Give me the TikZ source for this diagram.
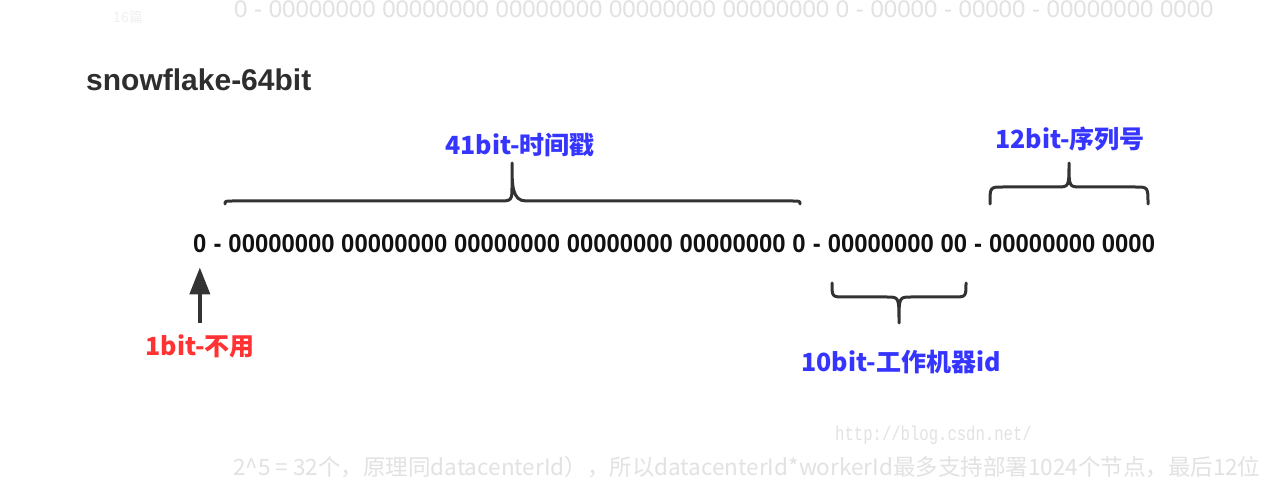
\documentclass[tikz,border=0pt]{standalone}
\usepackage{fontspec}
\usepackage{tikz}
\usepackage{xcolor}
\usetikzlibrary{arrows.meta, positioning}
\setmainfont{Liberation Sans}
\newfontfamily\bitfont[FakeStretch=0.925]{Liberation Sans}
\newfontfamily\cjk{Noto Sans CJK SC}
\newfontfamily\markfont[FakeStretch=0.78]{Liberation Mono}
\definecolor{SF_Black}{HTML}{111111}
\definecolor{SF_Title}{HTML}{2E2E2E}
\definecolor{SF_Line}{HTML}{333333}
\definecolor{SF_Blue}{HTML}{3535FF}
\definecolor{SF_Red}{HTML}{FF3333}
\definecolor{SF_Faded}{HTML}{E2E2E2}

\begin{document}
\begin{tikzpicture}[x=1pt, y=1pt,
    bits/.style={inner sep=0pt, text=SF_Black, font=\bitfont\fontsize{25.8}{25.8}\selectfont\bfseries},
    part/.style={inner sep=0pt, text=SF_Blue, font=\cjk\fontsize{25}{25}\selectfont\bfseries},
    brace/.style={SF_Line, line width=3pt, line cap=round, line join=round},
    faded/.style={inner sep=0pt, text=SF_Faded}]
    \useasboundingbox (0,0) rectangle (1264,485);
    \fill[white] (0,0) rectangle (1264,485);

    % faded page text
    \node[faded, anchor=base west, font=\fontsize{24}{24}\selectfont] (pagetop) at (234,467.5) {0 - 00000000 00000000 00000000 00000000 00000000 0 - 00000 - 00000 - 00000000 0000};
    \node[faded, text=SF_Faded!50, font=\cjk\fontsize{14}{14}\selectfont] (count) at (128,468) {16篇};
    \node[faded, anchor=base west, font=\markfont\fontsize{20}{20}\selectfont] (mark) at (835,45) {http://blog.csdn.net/};
    \node[faded, anchor=base west, font=\cjk\fontsize{22.5}{22.5}\selectfont] (pagebottom) at (233,10) {2\textasciicircum5 = 32个，原理同datacenterId），所以datacenterId*workerId最多支持部署1024个节点，最后12位};

    % title
    \node[anchor=base west, inner sep=0pt, text=SF_Title, font=\fontsize{30}{30}\selectfont\bfseries] (title) at (86,394) {snowflake-64bit};

    % the 64 bits
    \node[bits, anchor=base west] (sign) at (193,232) {0};
    \node[bits, base right=6.63pt of sign] (dash1) {-};
    \node[bits, base right=6.63pt of dash1] (time) {00000000 00000000 00000000 00000000 00000000 0};
    \node[bits, base right=6.63pt of time] (dash2) {-};
    \node[bits, base right=6.63pt of dash2] (worker) {00000000 00};
    \node[bits, base right=6.63pt of worker] (dash3) {-};
    \node[bits, base right=6.63pt of dash3] (seq) {00000000 0000};

    % braces
    \draw[brace] (225,281) .. controls (225,284) .. (233,284) -- (498,284) .. controls (512,284) .. (512,300) -- (512,322)
                 .. controls (512,300) and (512,284) .. (526,284) -- (792,284) .. controls (800,284) .. (800,281);
    \draw[brace] (990,281) .. controls (990,298) .. (1003,298) -- (1057,298) .. controls (1069,298) .. (1069,322)
                 .. controls (1069,298) .. (1081,298) -- (1135,298) .. controls (1148,298) .. (1148,281);
    \draw[brace] (832,202) .. controls (832,188) .. (845,188) -- (887,188) .. controls (899,188) .. (899,162)
                 .. controls (899,188) .. (911,188) -- (953,188) .. controls (966,188) .. (966,202);

    % labels
    \node[part] (timelbl) at (520,340) {41bit-时间戳};
    \node[part] (seqlbl) at (1070,346) {12bit-序列号};
    \node[part] (worklbl) at (901,123) {10bit-工作机器id};
    \node[part, text=SF_Red] (nouse) at (200,139) {1bit-不用};

    % sign bit arrow
    \draw[SF_Line, line width=4pt, -{Triangle[length=27pt, width=20pt]}, shorten <=11pt, shorten >=14pt]
        (sign.south |- nouse.north) -- (sign.south);
\end{tikzpicture}
\end{document}
